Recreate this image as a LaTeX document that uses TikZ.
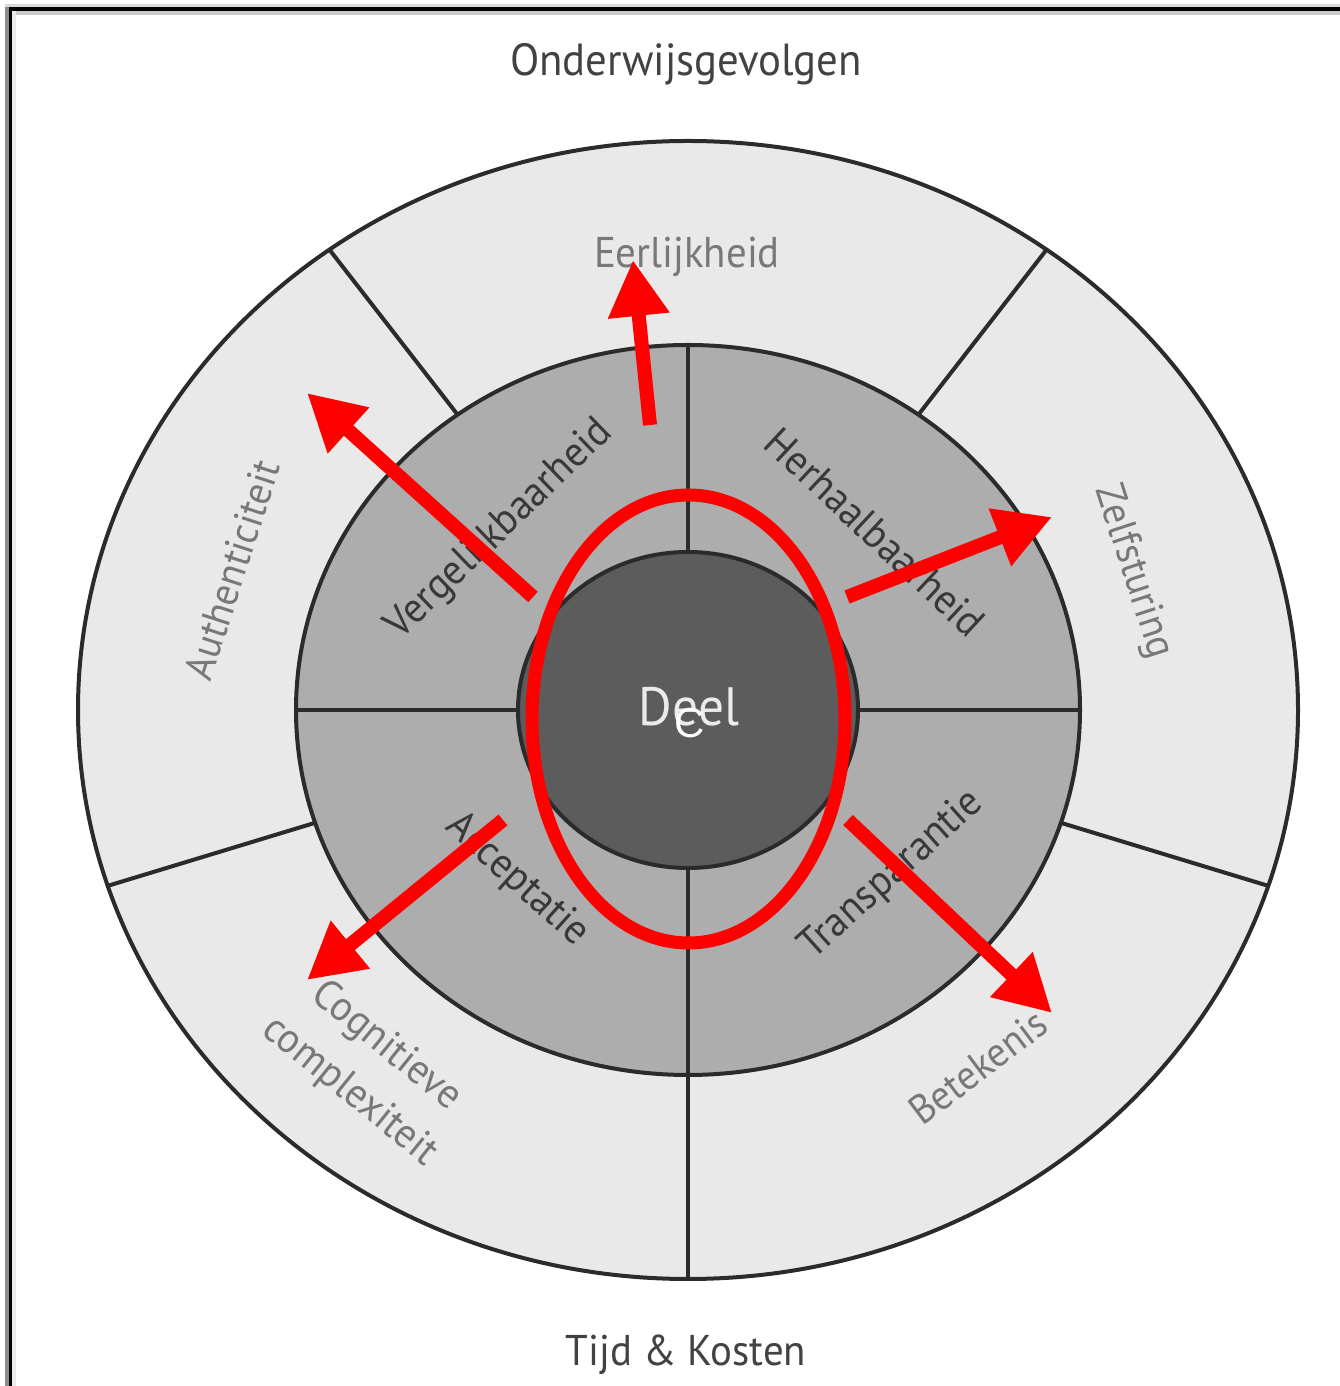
\documentclass[tikz,border=0pt]{standalone}
\usepackage{fontspec}
\newfontfamily\lab{PT Sans}[FakeStretch=0.95]
\newfontfamily\arialf{Liberation Sans}
\usetikzlibrary{calc,arrows.meta}
\definecolor{outerfill}{HTML}{E9E9E9}
\definecolor{midfill}{HTML}{ADADAD}
\definecolor{innerfill}{HTML}{5C5C5C}
\definecolor{ringline}{HTML}{2B2B2B}
\definecolor{outertxt}{HTML}{787878}
\definecolor{midtxt}{HTML}{383838}
\definecolor{titletxt}{HTML}{424242}
\begin{document}
\begin{tikzpicture}[x=1pt,y=1pt,
  ring/.style={draw=ringline,line width=4pt},
  divider/.style={draw=ringline,line width=4pt},
  outerlabel/.style={text=outertxt,inner sep=0pt,font=\lab\fontsize{41}{56}\selectfont,align=center},
  midlabel/.style={text=midtxt,inner sep=0pt,font=\lab\fontsize{42}{48}\selectfont},
  titlelabel/.style={text=titletxt,inner sep=0pt,font=\lab\fontsize{45}{52}\selectfont},
  redarrow/.style={draw=red,line width=14pt,-{Triangle[length=56pt,width=58pt]}},
]
\useasboundingbox (0,0) rectangle (1340,1386);
\fill[white] (0,0) rectangle (1340,1386);
% frame (top and left edges only)
\fill[black!15] (5,1379) rectangle (1340,1382);
\fill[black!20] (12,1371) rectangle (1340,1375);
\fill[black!45] (5,0) rectangle (9,1379);
\fill[black!8] (12,0) rectangle (16,1375);
\fill[black] (9,1375) rectangle (1340,1379);
\fill[black] (9,0) rectangle (12,1379);

\coordinate (c) at (688,676);
% outer ring
\path[ring,fill=outerfill] (c) ellipse [x radius=610, y radius=569];
\foreach \a in {54,126,198,270,342}{
  \draw[divider] ($(c)+(\a:392 and 365)$) -- ($(c)+(\a:610 and 569)$);
}
% middle ring
\path[ring,fill=midfill] (c) ellipse [x radius=392, y radius=365];
\foreach \a in {0,90,180,270}{
  \draw[divider] ($(c)+(\a:170 and 158)$) -- ($(c)+(\a:392 and 365)$);
}
% inner disc
\path[ring,fill=innerfill] (c) ellipse [x radius=170, y radius=158];

% titles
\node[titlelabel] (top) at (686,1322) {Onderwijsgevolgen};
\node[titlelabel,font=\lab\fontsize{43}{50}\selectfont] (bot) at (686,31) {Tijd \& Kosten};

% outer labels
\node[outerlabel,font=\lab\fontsize{43}{50}\selectfont] (eer) at (687,1129) {Eerlijkheid};
\node[outerlabel,rotate=72] (aut) at (232,816) {Authenticiteit};
\node[outerlabel,rotate=-72] (zel) at (1133,814) {Zelfsturing};
\node[outerlabel,rotate=-39,font=\lab\fontsize{42}{58}\selectfont] (cog) at (368,317) {Cognitieve\\complexiteit};
\node[outerlabel,rotate=37] (bet) at (978,319) {Betekenis};

% middle labels
\node[midlabel,rotate=44] (ver) at (500,856) {Vergelijkbaarheid};
\node[midlabel,rotate=-43] (her) at (875,854) {Herhaalbaarheid};
\node[midlabel,rotate=-42] (acc) at (517,506) {Acceptatie};
\node[midlabel,rotate=42] (tra) at (892,511) {Transparantie};

% centre
\node[text=black!8,inner sep=0pt,font=\lab\fontsize{54}{60}\selectfont] (deel) at (689,679) {Deel};

% red overlay
\draw[red,line width=13pt] (688.5,667) ellipse [x radius=156.5, y radius=224];
\coordinate (s1) at (650,961);  \coordinate (t1) at (633,1126);
\coordinate (s2) at (533,789);  \coordinate (t2) at (307,993);
\coordinate (s3) at (847,789);  \coordinate (t3) at (1052,869);
\coordinate (s4) at (503,566);  \coordinate (t4) at (307,406);
\coordinate (s5) at (848,566);  \coordinate (t5) at (1052,373);
\foreach \i in {1,...,5}{
  \draw[redarrow] (s\i) -- (t\i);
}
\node[text=white,inner sep=0pt,font=\arialf\fontsize{42}{46}\selectfont] (cc) at (690,663) {C};
\end{tikzpicture}
\end{document}
